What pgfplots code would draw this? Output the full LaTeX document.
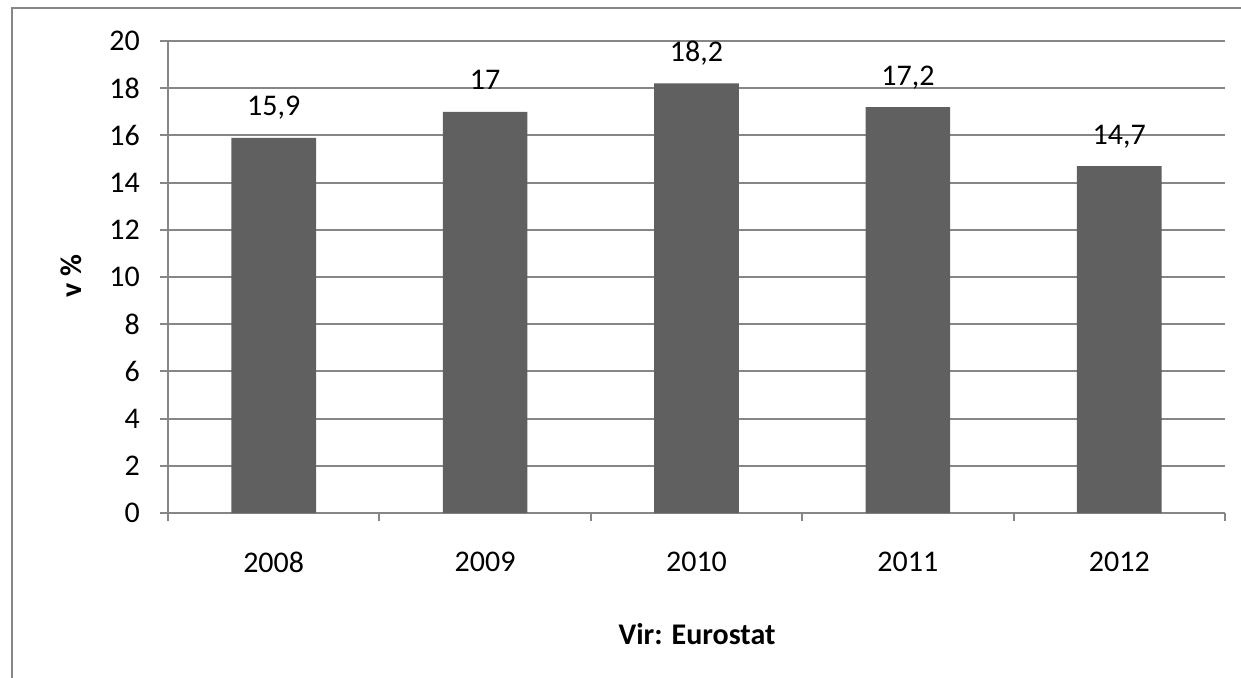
\documentclass[border=0pt]{standalone}
\usepackage{pgfplots}
\pgfplotsset{compat=1.18}
\usepackage{fontspec}
\setmainfont{Carlito}
\definecolor{gridc}{RGB}{134,134,134}
\definecolor{barc}{RGB}{96,96,96}
\begin{document}
\fontsize{30}{36}\selectfont
\begin{tikzpicture}[x=1pt,y=1pt]
\path[use as bounding box] (0,0) rectangle (1241,677);
\draw[gridc, line width=2pt] (12,-5) -- (12,669) -- (1250,669);
\begin{axis}[
  at={(168pt,164pt)}, anchor=south west,
  scale only axis, width=1057pt, height=472pt,
  xmin=0.5, xmax=5.5, ymin=0, ymax=20,
  axis lines*=left,
  axis line style={gridc, line width=2pt},
  ytick={0,2,...,20}, ymajorgrids,
  grid style={gridc, line width=2pt},
  xtick={1,2,3,4,5}, xticklabels={2008,2009,2010,2011,2012},
  minor xtick={0.5,1.5,2.5,3.5,4.5,5.5},
  major x tick style={draw=none},
  minor x tick style={gridc, line width=2pt},
  major y tick style={gridc, line width=2pt},
  tick align=outside, major tick length=8pt, minor tick length=8pt,
  every tick label/.append style={font=\fontsize{30}{36}\selectfont},
  yticklabel style={anchor=east, inner sep=0pt, xshift=-20pt},
  xticklabel style={anchor=north, inner sep=0pt, yshift=-31pt},
  ybar, bar width=84.6pt,
  nodes near coords,
  nodes near coords style={anchor=base, inner sep=0pt, yshift=22pt, font=\fontsize{30}{36}\selectfont},
  /pgf/number format/use comma,
  /pgf/number format/assume math mode=true,
  ylabel={\bfseries v \%},
  xlabel={\bfseries Vir: Eurostat},
  ylabel style={at={(axis description cs:-0.0913,0.502)}, anchor=center},
  xlabel style={at={(axis description cs:0.5005,-0.256)}, anchor=center},
]
\addplot[fill=barc, draw=none] coordinates {(1,15.9) (2,17) (3,18.2) (4,17.2) (5,14.7)};
\end{axis}
\end{tikzpicture}
\end{document}
